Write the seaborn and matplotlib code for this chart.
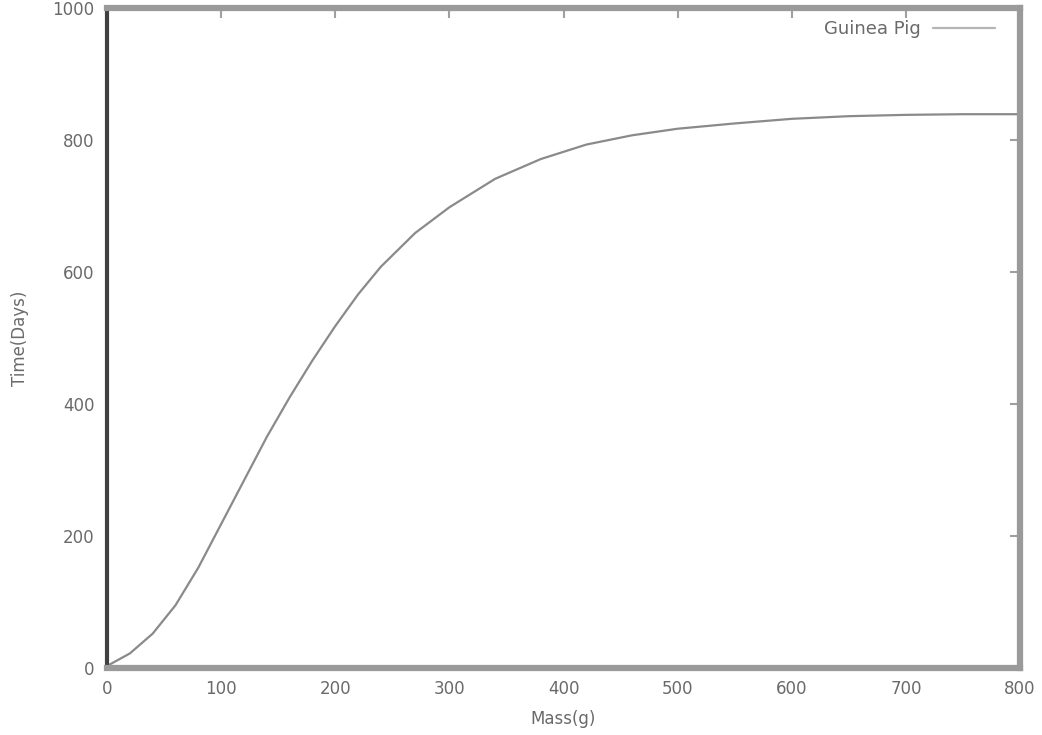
import matplotlib
matplotlib.use("Agg")
import matplotlib.pyplot as plt
import seaborn as sns
import pandas as pd

mass = [0, 20, 40, 60, 80, 100, 120, 140, 160, 180, 200, 220, 240, 270,
        300, 340, 380, 420, 460, 500, 550, 600, 650, 700, 750, 800]
days = [3, 22, 52, 95, 152, 218, 284, 350, 410, 466, 518, 566, 608, 659,
        698, 741, 771, 793, 807, 817, 825, 832, 836, 838, 839, 839]
series_name = "Guinea Pig"
x_ticks = [0, 100, 200, 300, 400, 500, 600, 700, 800]
y_ticks = [0, 200, 400, 600, 800, 1000]

sns.set_style("white")
plt.rcParams['font.family'] = ['DejaVu Sans']

df = pd.DataFrame({"Mass(g)": mass, "Time(Days)": days, "series": series_name})

fig = plt.figure(figsize=(10.42, 7.35), dpi=100)
ax = fig.add_axes([0.1027, 0.0912, 0.8762, 0.8980])

sns.lineplot(data=df, x="Mass(g)", y="Time(Days)", hue="series",
             palette=["#8a8a8a"], linewidth=1.6, ax=ax, legend=True)

ax.set_xlim(0, 800)
ax.set_ylim(0, 1000)
ax.set_xticks(x_ticks)
ax.set_yticks(y_ticks)

grey = "#9a9a9a"
for side in ["top", "bottom", "right"]:
    ax.spines[side].set_color(grey)
    ax.spines[side].set_linewidth(4.5)
ax.spines["left"].set_color("#404040")
ax.spines["left"].set_linewidth(3)

ax.tick_params(axis="both", which="both", direction="in", length=7, width=1.5,
               color="#a0a0a0", labelcolor="#6a6a6a", labelsize=12,
               top=True, right=True, pad=9)

ax.set_xlabel("Mass(g)", fontsize=12, color="#6a6a6a", labelpad=8)
ax.set_ylabel("Time(Days)", fontsize=12, color="#6a6a6a", labelpad=17)

leg = ax.legend(loc="upper right", bbox_to_anchor=(1.0, 1.02), frameon=False,
                fontsize=13, handlelength=3.4, handletextpad=0.7,
                borderaxespad=1.0, markerfirst=False)
for t in leg.get_texts():
    t.set_color("#6a6a6a")
for h in leg.get_lines():
    h.set_color("#b5b5b5")

fig.savefig("out.png", dpi=100, facecolor="white")
